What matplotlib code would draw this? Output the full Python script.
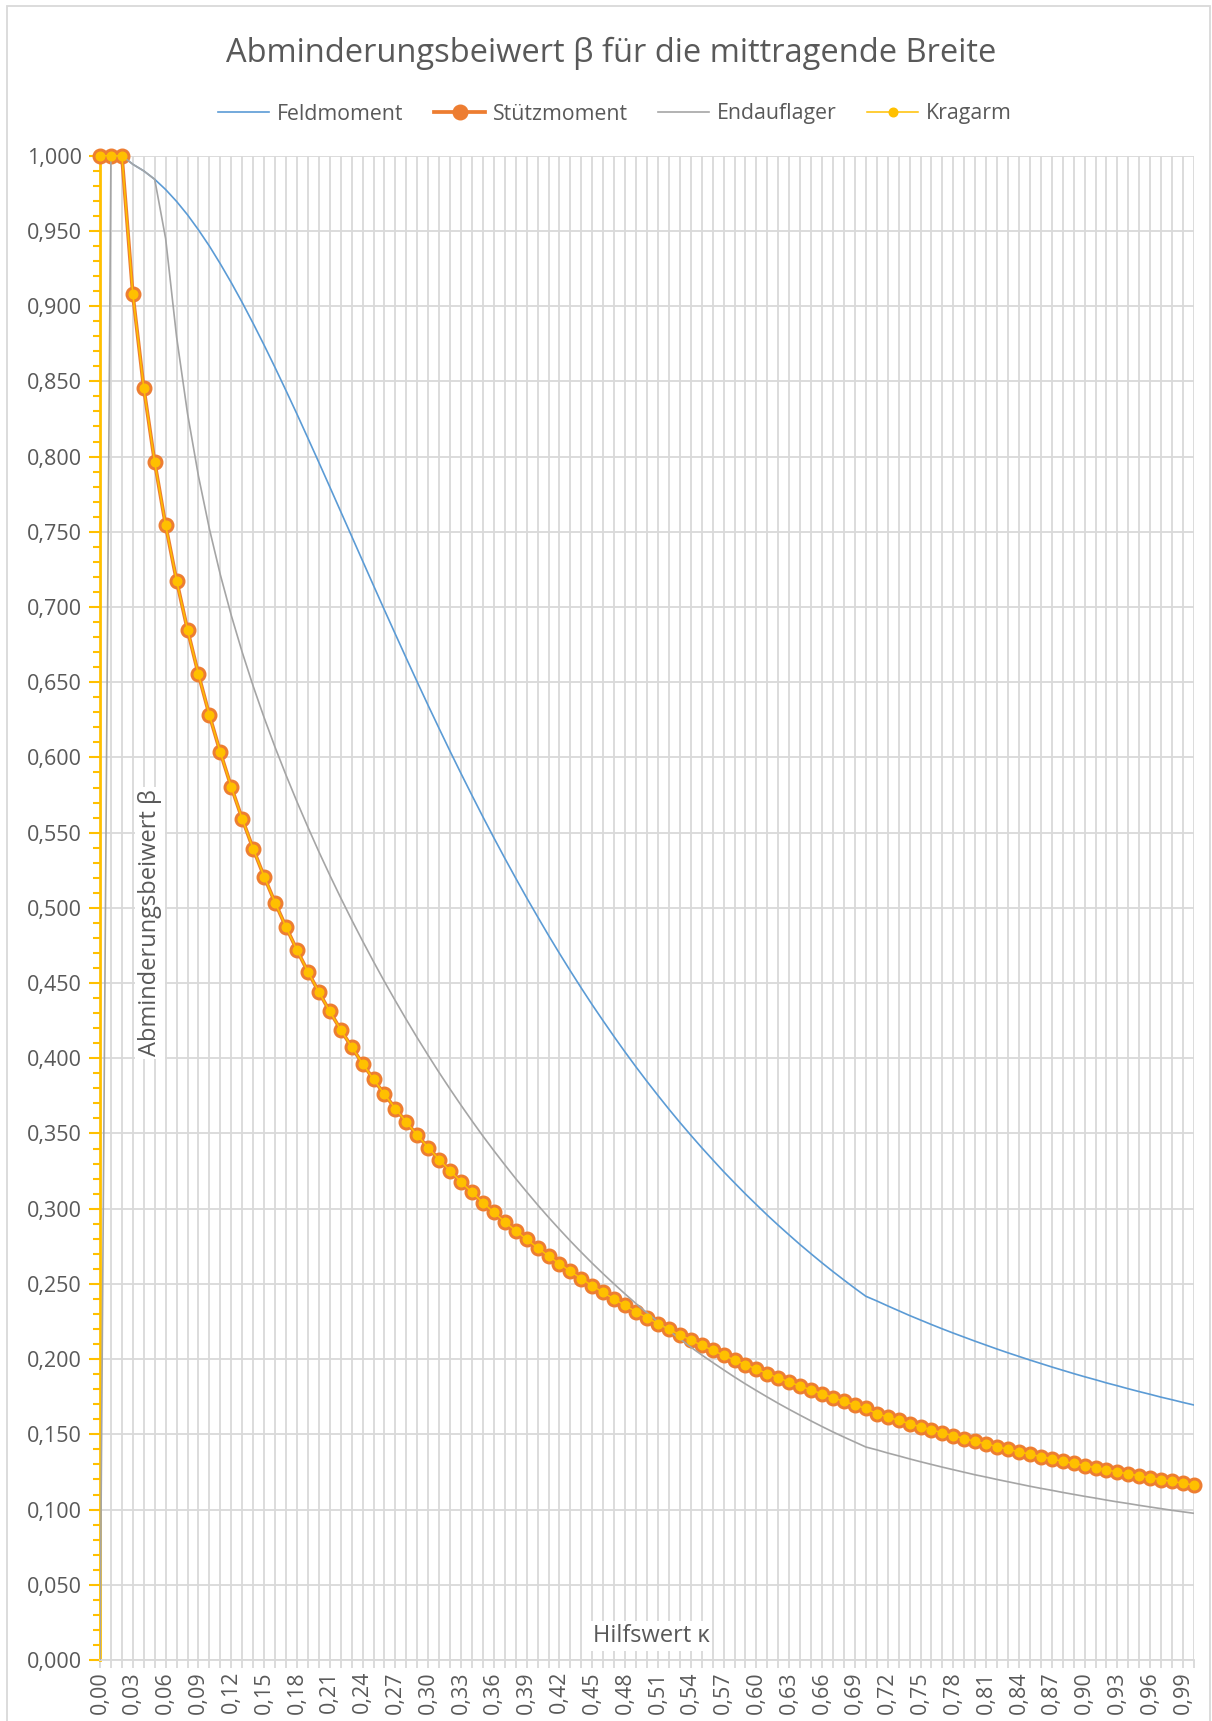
import matplotlib
matplotlib.use("Agg")
import matplotlib.pyplot as plt
from matplotlib.ticker import MultipleLocator, FuncFormatter, FixedLocator
from matplotlib.patches import Rectangle

plt.rcParams['font.family'] = ['Open Sans', 'DejaVu Sans']

# Hilfswert kappa (Kategorien 0,00 ... 1,00)
kappa = [round(0.01 * i, 2) for i in range(101)]

feld = [1.0, 1.0, 1.0, 0.9943, 0.9899, 0.9843, 0.9775, 0.9696, 0.9607, 0.9507,
        0.9399, 0.9281, 0.9156, 0.9024, 0.8885, 0.8741, 0.8592, 0.8439, 0.8283, 0.8123,
        0.7962, 0.7799, 0.7635, 0.7471, 0.7307, 0.7143, 0.6980, 0.6819, 0.6659, 0.6501,
        0.6345, 0.6192, 0.6041, 0.5893, 0.5748, 0.5605, 0.5466, 0.5330, 0.5197, 0.5067,
        0.4941, 0.4817, 0.4697, 0.4580, 0.4466, 0.4355, 0.4248, 0.4143, 0.4041, 0.3942,
        0.3846, 0.3753, 0.3662, 0.3574, 0.3489, 0.3406, 0.3326, 0.3247, 0.3172, 0.3098,
        0.3027, 0.2957, 0.2890, 0.2825, 0.2761, 0.2700, 0.2640, 0.2582, 0.2526, 0.2471,
        0.2418, 0.2387, 0.2354, 0.2322, 0.2290, 0.2260, 0.2230, 0.2201, 0.2173, 0.2146,
        0.2119, 0.2093, 0.2067, 0.2042, 0.2018, 0.1994, 0.1971, 0.1948, 0.1926, 0.1904,
        0.1883, 0.1863, 0.1842, 0.1823, 0.1803, 0.1784, 0.1766, 0.1747, 0.1730, 0.1712,
        0.1695]

stuetz = [1.0, 1.0, 1.0, 0.9079, 0.8456, 0.7962, 0.7543, 0.7176, 0.6848, 0.6552,
          0.6281, 0.6033, 0.5804, 0.5591, 0.5393, 0.5208, 0.5035, 0.4873, 0.4720, 0.4576,
          0.4441, 0.4312, 0.4190, 0.4075, 0.3965, 0.3860, 0.3761, 0.3666, 0.3575, 0.3489,
          0.3406, 0.3327, 0.3251, 0.3178, 0.3108, 0.3040, 0.2976, 0.2913, 0.2853, 0.2796,
          0.2740, 0.2686, 0.2634, 0.2584, 0.2535, 0.2488, 0.2443, 0.2399, 0.2357, 0.2315,
          0.2275, 0.2236, 0.2199, 0.2162, 0.2127, 0.2092, 0.2059, 0.2026, 0.1994, 0.1964,
          0.1934, 0.1904, 0.1876, 0.1848, 0.1821, 0.1795, 0.1769, 0.1744, 0.1719, 0.1695,
          0.1672, 0.1638, 0.1615, 0.1593, 0.1571, 0.1550, 0.1530, 0.1510, 0.1491, 0.1472,
          0.1453, 0.1436, 0.1418, 0.1401, 0.1384, 0.1368, 0.1352, 0.1337, 0.1321, 0.1307,
          0.1292, 0.1278, 0.1264, 0.1250, 0.1237, 0.1224, 0.1211, 0.1199, 0.1187, 0.1175,
          0.1163]

endauflager = [0.0, 1.0, 1.0, 0.9943, 0.9899, 0.9843, 0.9449, 0.8796, 0.8286, 0.7870,
               0.7519, 0.7214, 0.6944, 0.6699, 0.6474, 0.6265, 0.6068, 0.5883, 0.5706, 0.5537,
               0.5374, 0.5218, 0.5067, 0.4921, 0.4780, 0.4643, 0.4510, 0.4382, 0.4257, 0.4136,
               0.4019, 0.3905, 0.3795, 0.3688, 0.3584, 0.3483, 0.3386, 0.3292, 0.3200, 0.3112,
               0.3026, 0.2943, 0.2863, 0.2785, 0.2710, 0.2637, 0.2567, 0.2499, 0.2433, 0.2369,
               0.2308, 0.2248, 0.2190, 0.2135, 0.2080, 0.2028, 0.1978, 0.1929, 0.1881, 0.1835,
               0.1791, 0.1748, 0.1706, 0.1666, 0.1627, 0.1589, 0.1552, 0.1516, 0.1482, 0.1449,
               0.1416, 0.1397, 0.1376, 0.1357, 0.1337, 0.1318, 0.1300, 0.1282, 0.1265, 0.1248,
               0.1231, 0.1216, 0.1200, 0.1185, 0.1170, 0.1155, 0.1141, 0.1128, 0.1114, 0.1101,
               0.1088, 0.1076, 0.1063, 0.1051, 0.1040, 0.1028, 0.1017, 0.1006, 0.0995, 0.0985,
               0.0975]

# Kragarm liegt genau auf dem Stuetzmoment
kragarm = list(stuetz)

TXT = '#595959'
GRID = '#D9D9D9'

W, H = 1212, 1721
fig = plt.figure(figsize=(W / 100, H / 100), dpi=100)
fig.patches.append(Rectangle((7 / W, -0.01), 1203 / W, 1 - 6 / H + 0.01,
                             transform=fig.transFigure, fill=False,
                             edgecolor=GRID, linewidth=1.3))

ax = fig.add_axes([100 / W, 1 - 1660 / H, 1094 / W, 1504.3 / H])
x = list(range(len(kappa)))

ax.plot(x, feld, color='#5B9BD5', lw=1.2, label='Feldmoment', zorder=3)
ax.plot(x, stuetz, color='#ED7D31', lw=2.7, marker='o', ms=10.5,
        mfc='#ED7D31', mec='#ED7D31', label='Stützmoment', zorder=4, clip_on=False)
ax.plot(x, endauflager, color='#A5A5A5', lw=1.2, label='Endauflager', zorder=5)
ax.plot(x, kragarm, color='#FFC000', lw=1.1, marker='o', ms=6.2,
        mfc='#FFC000', mec='#FFC000', label='Kragarm', zorder=6, clip_on=False)

ax.set_xlim(0, len(kappa) - 1)
ax.set_ylim(0, 1.0)

# Gitter
ax.xaxis.set_major_locator(FixedLocator(x[::3]))
ax.xaxis.set_minor_locator(FixedLocator(x))
ax.set_xticklabels([f"{k:.2f}".replace('.', ',') for k in kappa[::3]],
                   rotation=90, fontsize=15.5, color=TXT)
ax.xaxis.grid(True, which='both', color=GRID, lw=1.3)
ax.yaxis.set_major_locator(MultipleLocator(0.05))
ax.yaxis.set_minor_locator(MultipleLocator(0.01))
ax.yaxis.set_major_formatter(FuncFormatter(lambda v, p: f"{v:.3f}".replace('.', ',')))
ax.yaxis.grid(True, which='major', color=GRID, lw=1.3)
ax.set_axisbelow(True)

for s in ['top', 'right']:
    ax.spines[s].set_visible(False)
ax.spines['bottom'].set_color(GRID)
ax.spines['bottom'].set_linewidth(1.3)
ax.spines['left'].set_color('#FFC000')
ax.spines['left'].set_linewidth(2)
ax.spines['left'].set_zorder(2.5)

ax.tick_params(axis='x', which='both', length=6, width=1.3, color=GRID, pad=2)
ax.tick_params(axis='y', which='major', length=8, width=1.5, color='#FFC000',
               labelsize=15.5, labelcolor=TXT, pad=5)
ax.tick_params(axis='y', which='minor', length=5, width=1.5, color='#FFC000')

fig.text(611 / W, 1 - 53 / H, 'Abminderungsbeiwert β für die mittragende Breite',
         ha='center', va='center', fontsize=23.5, color=TXT)

fig.text(150 / W, 1 - 923 / H, 'Abminderungsbeiwert β', rotation=90,
         ha='center', va='center', fontsize=17, color=TXT,
         bbox=dict(facecolor='white', edgecolor='none', pad=2), zorder=10)
fig.text(651 / W, 1 - 1636 / H, 'Hilfswert κ', ha='center', va='center',
         fontsize=17, color=TXT,
         bbox=dict(facecolor='white', edgecolor='none', pad=2), zorder=10)

fig.legend(loc='center', bbox_to_anchor=(615 / W, 1 - 114 / H), ncol=4,
           frameon=False, fontsize=15.3, labelcolor=TXT, handlelength=2.4,
           handletextpad=0.35, columnspacing=1.45, numpoints=1)

fig.savefig('out.png', dpi=100)
